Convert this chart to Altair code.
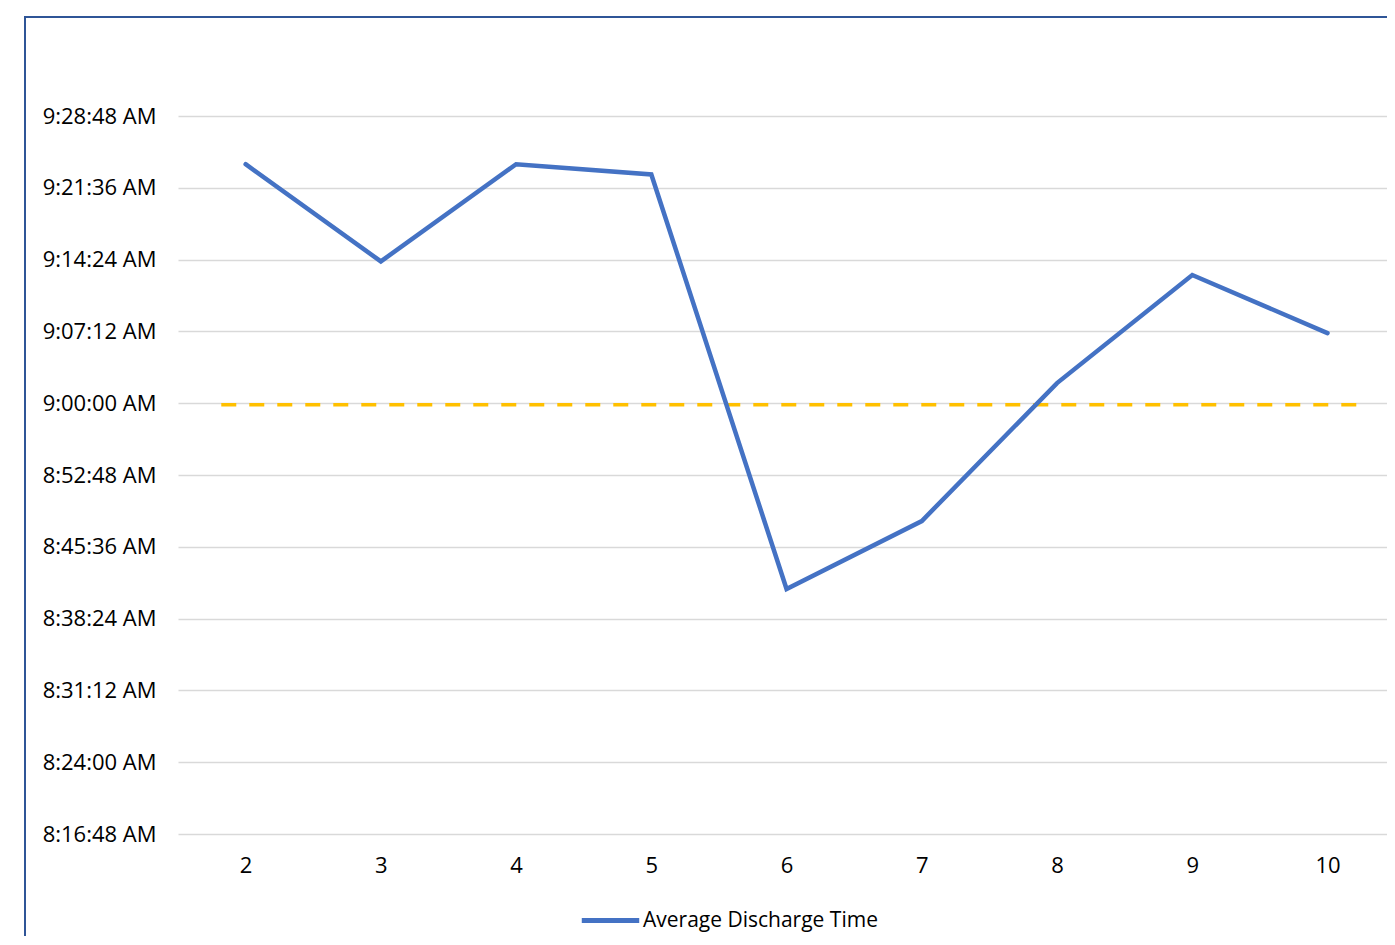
import altair as alt
import pandas as pd

# --- data ---
days = [2, 3, 4, 5, 6, 7, 8, 9, 10]
avg_times = ["9:23:58 AM", "9:14:13 AM", "9:23:58 AM", "9:22:56 AM", "8:41:22 AM",
             "8:48:11 AM", "9:02:01 AM", "9:12:51 AM", "9:07:02 AM"]
target_x = [1.82, 10.22]
target_time = "8:59:50 AM"
y_ticks = ["8:16:48 AM", "8:24:00 AM", "8:31:12 AM", "8:38:24 AM", "8:45:36 AM",
           "8:52:48 AM", "9:00:00 AM", "9:07:12 AM", "9:14:24 AM", "9:21:36 AM", "9:28:48 AM"]
series_name = "Average Discharge Time"


def to_sec(t):
    hms, ap = t.split(" ")
    h, m, s = [int(v) for v in hms.split(":")]
    if ap == "PM" and h != 12:
        h += 12
    if ap == "AM" and h == 12:
        h = 0
    return h * 3600 + m * 60 + s


tick_vals = [to_sec(t) for t in y_ticks]
df = pd.DataFrame({"day": days, "sec": [to_sec(t) for t in avg_times], "series": series_name})
tdf = pd.DataFrame({"day": target_x, "sec": [to_sec(target_time)] * 2})
frame_df = pd.DataFrame({"a": [0]})

FONT = "Open Sans"
FS = 22
label_expr = (
    "(floor(datum.value/3600)%12==0?12:floor(datum.value/3600)%12) + ':' + "
    "(floor((datum.value%3600)/60)<10?'0':'') + floor((datum.value%3600)/60) + ':' + "
    "((datum.value%60)<10?'0':'') + (datum.value%60) + ' ' + "
    "(datum.value<43200?'AM':'PM')"
)

xscale = alt.Scale(domain=[1.5, 10.44], nice=False, zero=False)
yscale = alt.Scale(domain=[tick_vals[0], tick_vals[-1]], nice=False, zero=False)

frame = alt.Chart(frame_df).mark_rect(
    fillOpacity=0, stroke="#2F5597", strokeWidth=2, clip=False
).encode(
    x=alt.value(-153), x2=alt.value(1420),
    y=alt.value(-99), y2=alt.value(1000),
)

target = alt.Chart(tdf).mark_line(
    color="#FFC000", strokeWidth=3.5, strokeDash=[15, 13]
).encode(
    x=alt.X("day:Q", scale=xscale),
    y=alt.Y("sec:Q", scale=yscale),
)

main = alt.Chart(df).mark_line(
    strokeWidth=4.5, strokeCap="round", strokeJoin="miter"
).encode(
    x=alt.X("day:Q", scale=xscale, title=None,
            axis=alt.Axis(values=days, grid=False, domain=False, ticks=False,
                          labelPadding=21, format="d")),
    y=alt.Y("sec:Q", scale=yscale, title=None,
            axis=alt.Axis(values=tick_vals, grid=True, domain=False, ticks=False,
                          labelPadding=22, labelExpr=label_expr)),
    color=alt.Color("series:N",
                    scale=alt.Scale(domain=[series_name], range=["#4472C4"]),
                    legend=alt.Legend(title=None, orient="none", legendX=401, legendY=773,
                                      symbolType="stroke", symbolSize=3300,
                                      symbolStrokeWidth=5, labelOffset=1, padding=0,
                                      labelFontSize=21, labelFont=FONT, labelLimit=0,
                                      labelColor="#000000")),
)

chart = alt.layer(frame, target, main).properties(
    width=1209, height=718,
    autosize=alt.AutoSizeParams(type="none"),
    padding={"left": 170, "top": 108, "right": 0, "bottom": 102},
).configure_view(stroke=None).configure_axis(
    labelFont=FONT, labelFontSize=FS, labelColor="#000000",
    gridColor="#D9D9D9", gridWidth=1.5,
)

chart.save("out.html", embed_options={"renderer": "svg", "actions": False})
